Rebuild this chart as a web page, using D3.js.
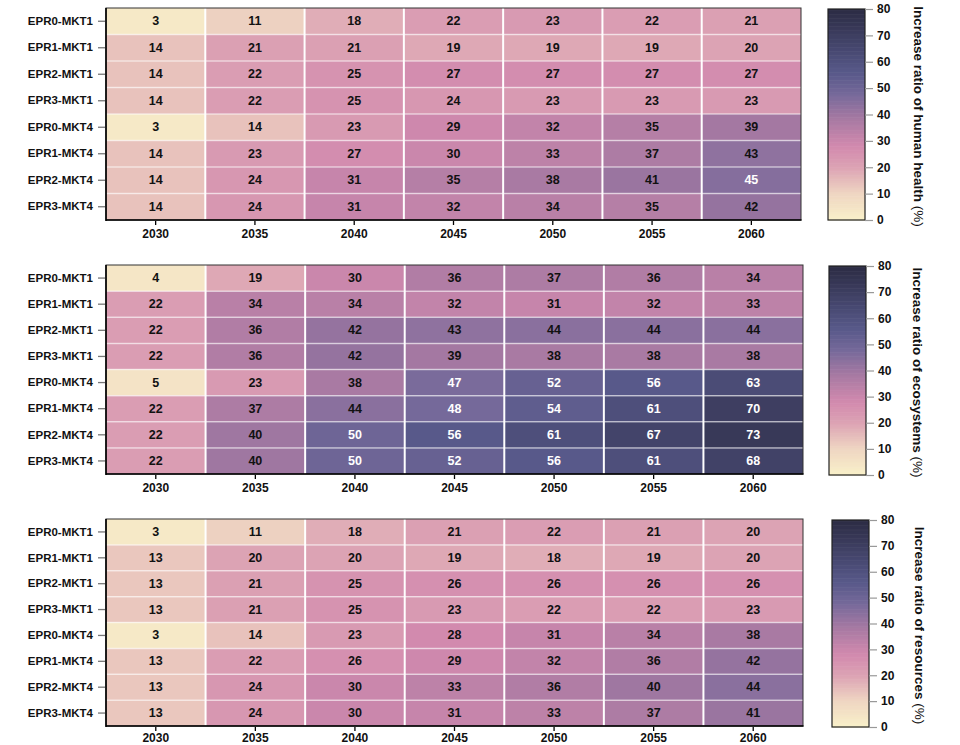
<!DOCTYPE html>
<html><head><meta charset="utf-8">
<script src="https://cdn.jsdelivr.net/npm/d3@7/dist/d3.min.js"></script>
<style>body{margin:0;background:#fff;}svg{display:block;font-family:"Liberation Sans",Arial,sans-serif;}</style>
</head><body><svg id="c" width="960" height="745"></svg>
<script>
const years = ["2030","2035","2040","2045","2050","2055","2060"];
const scenarios = ["EPR0-MKT1","EPR1-MKT1","EPR2-MKT1","EPR3-MKT1","EPR0-MKT4","EPR1-MKT4","EPR2-MKT4","EPR3-MKT4"];
const humanHealth = [
 [3,11,18,22,23,22,21],
 [14,21,21,19,19,19,20],
 [14,22,25,27,27,27,27],
 [14,22,25,24,23,23,23],
 [3,14,23,29,32,35,39],
 [14,23,27,30,33,37,43],
 [14,24,31,35,38,41,45],
 [14,24,31,32,34,35,42]];
const ecosystems = [
 [4,19,30,36,37,36,34],
 [22,34,34,32,31,32,33],
 [22,36,42,43,44,44,44],
 [22,36,42,39,38,38,38],
 [5,23,38,47,52,56,63],
 [22,37,44,48,54,61,70],
 [22,40,50,56,61,67,73],
 [22,40,50,52,56,61,68]];
const resources = [
 [3,11,18,21,22,21,20],
 [13,20,20,19,18,19,20],
 [13,21,25,26,26,26,26],
 [13,21,25,23,22,22,23],
 [3,14,23,28,31,34,38],
 [13,22,26,29,32,36,42],
 [13,24,30,33,36,40,44],
 [13,24,30,31,33,37,41]];
const titles = ["Increase ratio of human health","Increase ratio of ecosystems","Increase ratio of resources"];
const colorTicks = [0,10,20,30,40,50,60,70,80];
const colorStops = [0,10,20,28,38,48,56,66,80];
const colorVals = ["#f9f1c9","#efd6c2","#dca3b4","#d28aae","#a97aa3","#75699a","#58598a","#45466d","#2c2c44"];

const color = d3.scaleLinear().domain(colorStops).range(colorVals).interpolate(d3.interpolateLab).clamp(true);
const svg = d3.select("#c");

const panels = [
 {data:humanHealth, title:titles[0], top:8, bottom:220, right:801, cb:{x:828,y0:9,y1:220}, tx:919, pad:4},
 {data:ecosystems, title:titles[1], top:265, bottom:474, right:803, cb:{x:829,y0:266,y1:475}, tx:918, pad:4},
 {data:resources, title:titles[2], top:519, bottom:726, right:803, cb:{x:832,y0:520,y1:727}, tx:920, pad:2}
];

panels.forEach(p=>{
  const left = 106;
  const x = d3.scaleBand().domain(years).range([left,p.right]);
  const y = d3.scaleBand().domain(scenarios).range([p.top,p.bottom]);
  const g = svg.append("g");
  const cells = [];
  p.data.forEach((row,i)=>row.forEach((v,j)=>cells.push({r:scenarios[i],c:years[j],v})));
  g.selectAll("rect.cell").data(cells).join("rect").attr("class","cell")
    .attr("x",d=>x(d.c)).attr("y",d=>y(d.r)).attr("width",x.bandwidth()).attr("height",y.bandwidth())
    .attr("fill",d=>color(d.v));
  g.selectAll("line.h").data(scenarios.slice(1)).join("line").attr("class","h")
    .attr("x1",left).attr("x2",p.right).attr("y1",d=>y(d)).attr("y2",d=>y(d))
    .attr("stroke","rgba(255,255,255,0.55)").attr("stroke-width",1.5);
  g.selectAll("line.v").data(years.slice(1)).join("line").attr("class","v")
    .attr("y1",p.top).attr("y2",p.bottom).attr("x1",d=>x(d)).attr("x2",d=>x(d))
    .attr("stroke","#fff").attr("stroke-width",2);
  g.selectAll("text.val").data(cells).join("text").attr("class","val")
    .attr("x",d=>x(d.c)+x.bandwidth()/2).attr("y",d=>y(d.r)+y.bandwidth()/2)
    .attr("text-anchor","middle").attr("dominant-baseline","central")
    .attr("font-size",12.5).attr("font-weight","bold")
    .attr("fill",d=>d.v>=45?"#fff":"#111").text(d=>d.v);
  g.append("rect").attr("x",left).attr("y",p.top).attr("width",p.right-left).attr("height",p.bottom-p.top)
    .attr("fill","none").attr("stroke","#333").attr("stroke-width",1);
  g.append("line").attr("x1",left).attr("x2",left).attr("y1",p.top).attr("y2",p.bottom+1).attr("stroke","#000").attr("stroke-width",1.6);
  g.append("line").attr("x1",left).attr("x2",p.right+0.5).attr("y1",p.bottom).attr("y2",p.bottom).attr("stroke","#000").attr("stroke-width",1.6);
  const ya = g.append("g").attr("transform",`translate(${left-1},0)`).call(d3.axisLeft(y).tickSize(7).tickPadding(5));
  ya.select(".domain").remove();
  ya.selectAll(".tick line").attr("stroke","#777").attr("stroke-width",1.3);
  ya.selectAll(".tick text").attr("font-size",11.5).attr("font-weight","bold").attr("fill","#111")
    .attr("font-family","Liberation Sans, Arial, sans-serif");
  const xa = g.append("g").attr("transform",`translate(0,${p.bottom+1})`).call(d3.axisBottom(x).tickSize(4).tickPadding(p.pad));
  xa.select(".domain").remove();
  xa.selectAll(".tick line").attr("stroke","#000").attr("stroke-width",1.3);
  xa.selectAll(".tick text").attr("font-size",12).attr("font-weight","bold").attr("fill","#111")
    .attr("font-family","Liberation Sans, Arial, sans-serif");
  const cw = 37;
  const cs = d3.scaleLinear().domain([0,80]).range([p.cb.y1,p.cb.y0]);
  const steps = d3.range(0,80,0.5);
  g.selectAll("rect.cb").data(steps).join("rect").attr("class","cb")
    .attr("x",p.cb.x).attr("width",cw).attr("y",d=>cs(d+0.5)).attr("height",d=>cs(d)-cs(d+0.5)+0.6)
    .attr("fill",d=>color(d+0.25));
  g.append("rect").attr("x",p.cb.x).attr("y",p.cb.y0).attr("width",cw).attr("height",p.cb.y1-p.cb.y0)
    .attr("fill","none").attr("stroke","#222").attr("stroke-width",1.2);
  const ca = g.append("g").attr("transform",`translate(${p.cb.x+cw},0)`)
    .call(d3.axisRight(cs).tickValues(colorTicks).tickSize(8).tickPadding(4).tickFormat(d3.format("d")));
  ca.select(".domain").remove();
  ca.selectAll(".tick line").attr("stroke","#999").attr("stroke-width",1.2);
  ca.selectAll(".tick text").attr("font-size",12).attr("font-weight","bold").attr("fill","#111")
    .attr("font-family","Liberation Sans, Arial, sans-serif");
  const cy = (p.cb.y0+p.cb.y1)/2 + 2;
  const t = g.append("text").attr("transform",`translate(${p.tx},${cy}) rotate(90)`)
    .attr("text-anchor","middle").attr("dominant-baseline","central").attr("font-size",13.5).attr("fill","#111");
  t.append("tspan").attr("font-weight","bold").text(p.title);
  t.append("tspan").attr("font-weight","normal").text(" (%)");
});
</script></body></html>
